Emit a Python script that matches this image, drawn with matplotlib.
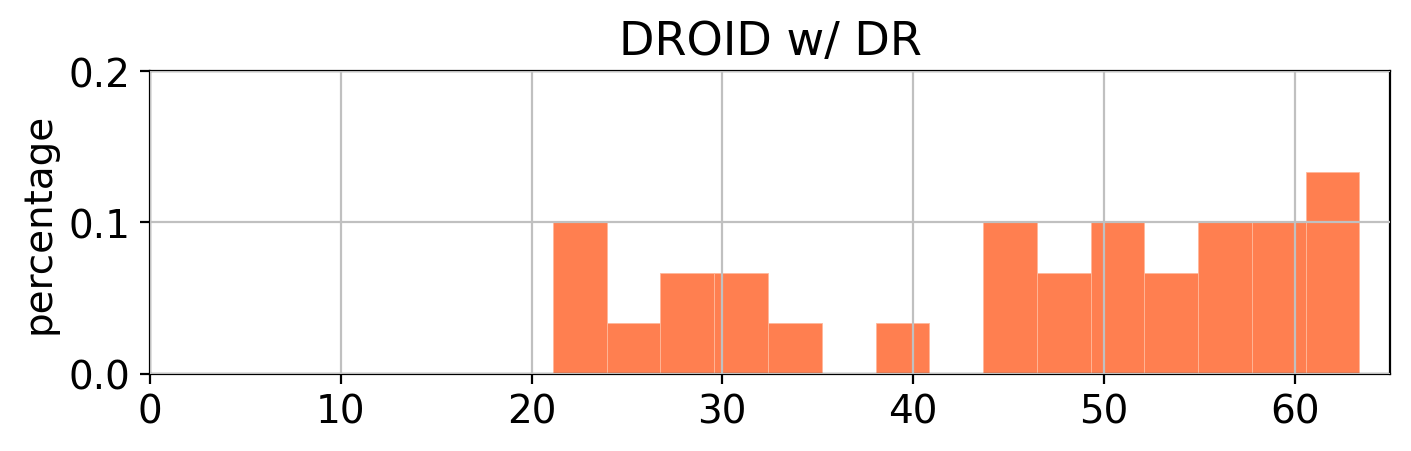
import matplotlib
matplotlib.use("Agg")
import matplotlib.pyplot as plt
import numpy as np

# Histogram: 15 equal-width bins, 30 samples
bin_start = 21.12
bin_end = 63.40
n_bins = 15
counts = [3, 1, 2, 2, 1, 0, 1, 0, 3, 2, 3, 2, 3, 3, 4]
n_samples = 30

title = "DROID w/ DR"
ylabel = "percentage"
xticks = [0, 10, 20, 30, 40, 50, 60]
yticks = [0.0, 0.1, 0.2]

edges = np.linspace(bin_start, bin_end, n_bins + 1)
heights = np.array(counts) / n_samples

fig = plt.figure(figsize=(7.055, 2.26), dpi=200)
ax = fig.add_axes([150 / 1411, 1 - 374.5 / 452, 1240 / 1411, 302.5 / 452])

ax.bar(edges[:-1], heights, width=np.diff(edges), align="edge",
       color="coral", edgecolor="#ffb89a", linewidth=0.3, zorder=1)

ax.set_axisbelow(False)
ax.grid(True, color="#c0c0c0", linewidth=0.8, zorder=2)

ax.set_xlim(0, 65)
ax.set_ylim(0, 0.2)
ax.set_xticks(xticks)
ax.set_yticks(yticks)
ax.tick_params(labelsize=14)
ax.set_ylabel(ylabel, fontsize=14)
ax.set_title(title, fontsize=16.6)

fig.savefig("out.png", dpi=200)
